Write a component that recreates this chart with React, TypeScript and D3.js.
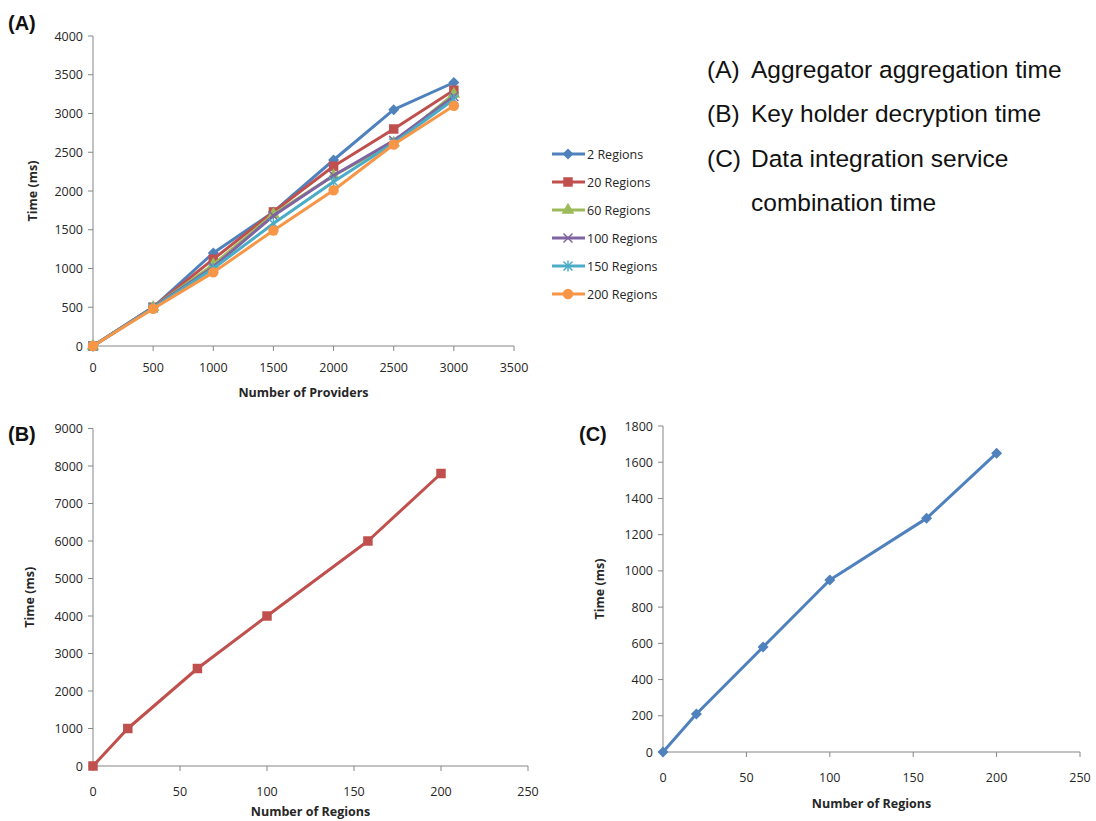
import React from 'react';
import * as d3 from 'd3';

// ---------- data ----------
const providers = [0, 500, 1000, 1500, 2000, 2500, 3000];
const seriesNames = ['2 Regions', '20 Regions', '60 Regions', '100 Regions', '150 Regions', '200 Regions'];
const time2 = [0, 500, 1200, 1730, 2400, 3050, 3400];
const time20 = [0, 500, 1120, 1730, 2320, 2800, 3300];
const time60 = [0, 500, 1050, 1700, 2200, 2620, 3250];
const time100 = [0, 500, 1020, 1680, 2200, 2650, 3220];
const time150 = [0, 490, 1000, 1580, 2120, 2620, 3180];
const time200 = [0, 480, 950, 1490, 2010, 2600, 3100];
const seriesA = [time2, time20, time60, time100, time150, time200];
const colorsA = ['#4F81BD', '#C0504D', '#9BBB59', '#8064A2', '#4BACC6', '#F79646'];
const markersA = ['diamond', 'square', 'triangle', 'x', 'asterisk', 'circle'];

const regions = [0, 20, 60, 100, 158, 200];
const decryptTime = [0, 1000, 2600, 4000, 6000, 7800];
const combineTime = [0, 210, 580, 950, 1290, 1650];

const ticksA_x = [0, 500, 1000, 1500, 2000, 2500, 3000, 3500];
const ticksA_y = [0, 500, 1000, 1500, 2000, 2500, 3000, 3500, 4000];
const ticksB_x = [0, 50, 100, 150, 200, 250];
const ticksB_y = [0, 1000, 2000, 3000, 4000, 5000, 6000, 7000, 8000, 9000];
const ticksC_y = [0, 200, 400, 600, 800, 1000, 1200, 1400, 1600, 1800];

const noteTags = ['(A)', '(B)', '(C)', ''];
const noteTexts = ['Aggregator aggregation time', 'Key holder decryption time', 'Data integration service', 'combination time'];

const FONT = '"Open Sans", "Noto Sans", sans-serif';
const ARIAL = '"Liberation Sans", Arial, sans-serif';
const AXIS = '#868686';
const TXT = '#262626';

function Marker({ type, cx, cy, color }: { type: string; cx: number; cy: number; color: string }) {
  if (type === 'x' || type === 'asterisk') {
    const r = 4.5;
    return (
      <g transform={`translate(${cx},${cy})`} stroke={color} strokeWidth={1.5}>
        <line x1={-r} y1={-r} x2={r} y2={r} />
        <line x1={-r} y1={r} x2={r} y2={-r} />
        {type === 'asterisk' && <line x1={0} y1={-r - 1} x2={0} y2={r + 1} />}
      </g>
    );
  }
  if (type === 'diamond') {
    const r = 5.5;
    return <path d={`M0,${-r}L${r},0L0,${r}L${-r},0Z`} transform={`translate(${cx},${cy})`} fill={color} />;
  }
  const sym = type === 'square' ? d3.symbolSquare : type === 'triangle' ? d3.symbolTriangle : d3.symbolCircle;
  const size = type === 'square' ? 90 : type === 'triangle' ? 70 : 85;
  const p = d3.symbol(sym, size)() || '';
  return <path d={p} transform={`translate(${cx},${cy})`} fill={color} />;
}

type PanelProps = {
  x0: number; x1: number; y0: number; y1: number;
  xDomain: [number, number]; yDomain: [number, number];
  xTicks: number[]; yTicks: number[];
  xTitle: string; xTitleY: number; xLabelY: number; yTitleX: number;
  children: (x: d3.ScaleLinear<number, number>, y: d3.ScaleLinear<number, number>) => React.ReactNode;
};

function Panel(p: PanelProps) {
  const x = d3.scaleLinear().domain(p.xDomain).range([p.x0, p.x1]);
  const y = d3.scaleLinear().domain(p.yDomain).range([p.y0, p.y1]);
  return (
    <g>
      <line x1={p.x0} y1={p.y0} x2={p.x0} y2={p.y1} stroke={AXIS} strokeWidth={1} />
      <line x1={p.x0} y1={p.y0} x2={p.x1} y2={p.y0} stroke={AXIS} strokeWidth={1} />
      {p.yTicks.map((t) => (
        <g key={'y' + t}>
          <line x1={p.x0 - 5} x2={p.x0} y1={y(t)} y2={y(t)} stroke={AXIS} />
          <text x={p.x0 - 10} y={y(t) + 4.5} textAnchor="end" fontSize={12.5} fontFamily={FONT} fill={TXT}>{t}</text>
        </g>
      ))}
      {p.xTicks.map((t) => (
        <g key={'x' + t}>
          <line x1={x(t)} x2={x(t)} y1={p.y0} y2={p.y0 + 5} stroke={AXIS} />
          <text x={x(t)} y={p.xLabelY} textAnchor="middle" fontSize={12.5} fontFamily={FONT} fill={TXT}>{t}</text>
        </g>
      ))}
      <text x={(p.x0 + p.x1) / 2} y={p.xTitleY} textAnchor="middle" fontSize={12.5} fontWeight="bold" fontFamily={FONT} fill={TXT}>{p.xTitle}</text>
      <text transform={`translate(${p.yTitleX},${(p.y0 + p.y1) / 2}) rotate(-90)`} textAnchor="middle" fontSize={12.5} fontWeight="bold" fontFamily={FONT} fill={TXT}>Time (ms)</text>
      {p.children(x, y)}
    </g>
  );
}

export default function App() {
  const line = (x: d3.ScaleLinear<number, number>, y: d3.ScaleLinear<number, number>, xs: number[], ys: number[]) =>
    d3.line<number>().x((_, i) => x(xs[i])).y((v) => y(v))(ys) || '';

  return (
    <svg width={1096} height={821} style={{ position: 'absolute', left: 0, top: 0, background: '#fff' }}>
      <rect width={1096} height={821} fill="#fff" />
      {/* Panel A */}
      <text x={8} y={30} fontSize={20} fontWeight="bold" fontFamily={ARIAL} fill="#111">(A)</text>
      <Panel x0={93} x1={514} y0={346} y1={36} xDomain={[0, 3500]} yDomain={[0, 4000]}
        xTicks={ticksA_x} yTicks={ticksA_y} xTitle="Number of Providers" xTitleY={397} xLabelY={372} yTitleX={37}>
        {(x, y) => (
          <g>
            {seriesA.map((s, i) => (
              <g key={i}>
                <path d={line(x, y, providers, s)} fill="none" stroke={colorsA[i]} strokeWidth={3} strokeLinejoin="round" />
                {s.map((v, j) => (
                  <Marker key={j} type={markersA[i]} cx={x(providers[j])} cy={y(v)} color={colorsA[i]} />
                ))}
              </g>
            ))}
          </g>
        )}
      </Panel>
      {/* Legend A */}
      {seriesNames.map((n, i) => {
        const ly = 154 + i * 28;
        return (
          <g key={n}>
            <line x1={552} x2={585} y1={ly} y2={ly} stroke={colorsA[i]} strokeWidth={3} />
            <Marker type={markersA[i]} cx={568} cy={ly} color={colorsA[i]} />
            <text x={587} y={ly + 4.5} fontSize={12.5} fontFamily={FONT} fill={TXT}>{n}</text>
          </g>
        );
      })}
      {/* Notes */}
      {noteTexts.map((n, i) => (
        <g key={n}>
          {noteTags[i] && <text x={707} y={78 + i * 44.3} fontSize={24.5} fontFamily={ARIAL} fill="#111">{noteTags[i]}</text>}
          <text x={751} y={78 + i * 44.3} fontSize={24.5} fontFamily={ARIAL} fill="#111">{n}</text>
        </g>
      ))}

      {/* Panel B */}
      <text x={8} y={441} fontSize={20} fontWeight="bold" fontFamily={ARIAL} fill="#111">(B)</text>
      <Panel x0={93} x1={528} y0={766} y1={428.5} xDomain={[0, 250]} yDomain={[0, 9000]}
        xTicks={ticksB_x} yTicks={ticksB_y} xTitle="Number of Regions" xTitleY={816} xLabelY={796} yTitleX={34}>
        {(x, y) => (
          <g>
            <path d={line(x, y, regions, decryptTime)} fill="none" stroke="#C0504D" strokeWidth={3} strokeLinejoin="round" />
            {decryptTime.map((v, j) => (
              <Marker key={j} type="square" cx={x(regions[j])} cy={y(v)} color="#C0504D" />
            ))}
          </g>
        )}
      </Panel>

      {/* Panel C */}
      <text x={579} y={441} fontSize={20} fontWeight="bold" fontFamily={ARIAL} fill="#111">(C)</text>
      <Panel x0={663} x1={1080} y0={752} y1={426} xDomain={[0, 250]} yDomain={[0, 1800]}
        xTicks={ticksB_x} yTicks={ticksC_y} xTitle="Number of Regions" xTitleY={808} xLabelY={782} yTitleX={604}>
        {(x, y) => (
          <g>
            <path d={line(x, y, regions, combineTime)} fill="none" stroke="#4F81BD" strokeWidth={3} strokeLinejoin="round" />
            {combineTime.map((v, j) => (
              <Marker key={j} type="diamond" cx={x(regions[j])} cy={y(v)} color="#4F81BD" />
            ))}
          </g>
        )}
      </Panel>
    </svg>
  );
}
